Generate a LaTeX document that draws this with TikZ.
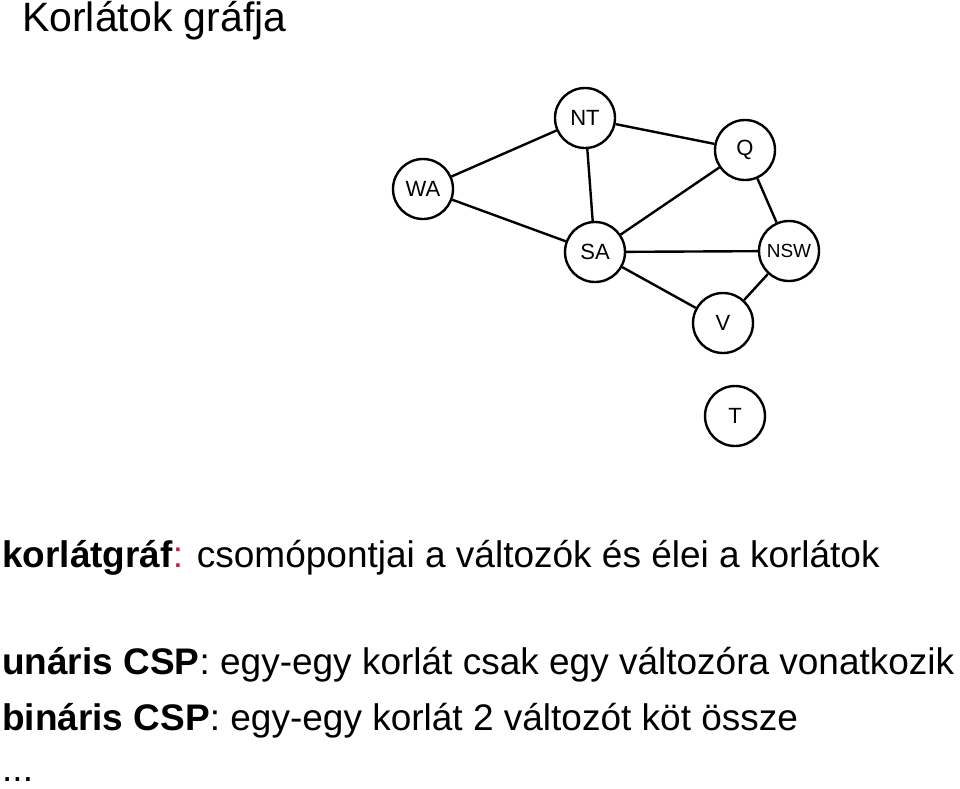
\documentclass[tikz,border=0pt]{standalone}
\usepackage{fontspec}
\setmainfont{Liberation Sans}
\definecolor{colred}{RGB}{200,30,60}
\begin{document}
\begin{tikzpicture}[x=1pt,y=-1pt]
    \useasboundingbox (0,0) rectangle (960,788);
    \tikzset{var/.style={draw,circle,line width=2.4pt,minimum size=60pt,inner sep=0pt,font=\fontsize{22}{22}\selectfont},
      txt/.style={anchor=base west,inner sep=0pt,font=\fontsize{37}{37}\selectfont}}
    \node (WA) at (423,189) [var] {WA};
    \node (NT) at (585,118) [var] {NT};
    \node (Q) at (745,150) [var] {Q};
    \node (SA) at (595,252) [var] {SA};
    \node (NSW) at (789,251) [var,font=\fontsize{19}{19}\selectfont] {NSW};
    \node (V) at (723,323) [var] {V};
    \node (T) at (735,416) [var] {T};
   \draw[line width=2.4pt]
    (WA) -- (NT) (WA) -- (SA) (NT) -- (SA) (NT) -- (Q)
    (Q) -- (SA) (Q) -- (NSW) (SA) -- (NSW) (SA) -- (V) (V) -- (NSW);
    \node (title) at (22,31) [txt,font=\fontsize{41}{41}\selectfont] {Korlátok gráfja};
    \node (l1) at (2,567) [txt] {\textbf{korlátgráf}\textcolor{colred}{:} csomópontjai a változók és élei a korlátok};
    \node (l2) at (2,674) [txt] {\textbf{unáris CSP}: egy-egy korlát csak egy változóra vonatkozik};
    \node (l3) at (2,730) [txt] {\textbf{bináris CSP}: egy-egy korlát 2 változót köt össze};
    \node (l4) at (2,781) [txt] {...};
  \end{tikzpicture}
\end{document}
